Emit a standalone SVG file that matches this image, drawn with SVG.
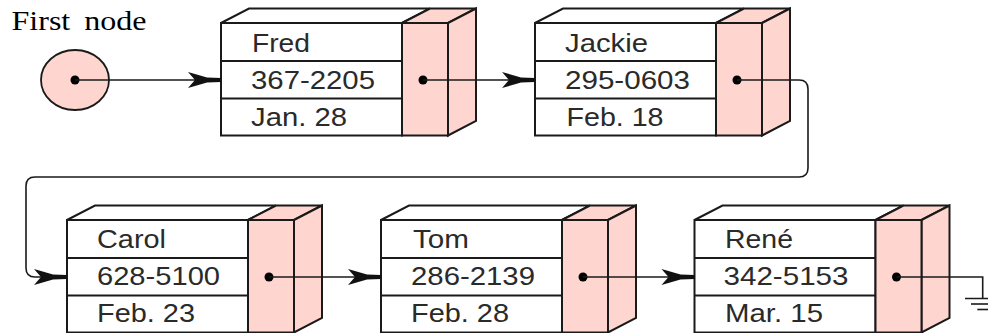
<svg xmlns="http://www.w3.org/2000/svg" xmlns:xlink="http://www.w3.org/1999/xlink" width="988" height="333" viewBox="0 0 988 333">
<style>
  .face { stroke: #1a1a1a; stroke-width: 2; stroke-linejoin: miter; }
  .white { fill: #ffffff; }
  .pink { fill: #ffd5cf; }
  .div { stroke: #1a1a1a; stroke-width: 2; }
  .dot { fill: #000000; }
  .lbl { font-family: "Liberation Sans", Arial, sans-serif; font-size: 25.5px; fill: #2a2a2a; }
  .title { font-family: "Liberation Serif", "Times New Roman", serif; font-size: 27px; fill: #000000; word-spacing: 5px; }
  .conn { fill: none; stroke: #1a1a1a; stroke-width: 1.6; }
  .ground { stroke: #1a1a1a; stroke-width: 1.6; }
</style>
<defs>
  <marker id="arr" markerUnits="userSpaceOnUse" viewBox="-34 -9 35 18" refX="0" refY="0" markerWidth="35" markerHeight="18" orient="auto">
    <path d="M-33,-8 L-14,-2.6 L0,-1.9 L0,1.9 L-14,2.6 L-33,8 L-26,0 Z" fill="#111111"/>
  </marker>
</defs>

<g id="first-node">
  <text class="title" x="11.5" y="29.5" textLength="135" lengthAdjust="spacingAndGlyphs">First node</text>
  <ellipse cx="75" cy="80" rx="34" ry="30" class="pink" stroke="#1a1a1a" stroke-width="1.8"/>
  <circle cx="75" cy="80" r="4.5" class="dot"/>
</g>

<g id="node-fred" transform="translate(221,23)">
  <polygon class="face white" points="0,0 28,-14.5 209,-14.5 181,0"/>
  <polygon class="face pink" points="181,0 209,-14.5 255,-14.5 227,0"/>
  <polygon class="face pink" points="227,0 255,-14.5 255,98 227,112.5"/>
  <rect class="face white" x="0" y="0" width="181" height="112.5"/>
  <rect class="face pink" x="181" y="0" width="46" height="112.5"/>
  <line class="div" x1="0" y1="38" x2="181" y2="38"/>
  <line class="div" x1="0" y1="75.5" x2="181" y2="75.5"/>
  <text class="lbl" x="31" y="29" textLength="58" lengthAdjust="spacingAndGlyphs">Fred</text>
  <text class="lbl" x="30" y="66" textLength="124" lengthAdjust="spacingAndGlyphs">367-2205</text>
  <text class="lbl" x="30" y="103" textLength="96" lengthAdjust="spacingAndGlyphs">Jan. 28</text>
  <circle cx="202" cy="57" r="4.5" class="dot"/>
</g>

<g id="node-jackie" transform="translate(535,23)">
  <polygon class="face white" points="0,0 28,-14.5 209,-14.5 181,0"/>
  <polygon class="face pink" points="181,0 209,-14.5 255,-14.5 227,0"/>
  <polygon class="face pink" points="227,0 255,-14.5 255,98 227,112.5"/>
  <rect class="face white" x="0" y="0" width="181" height="112.5"/>
  <rect class="face pink" x="181" y="0" width="46" height="112.5"/>
  <line class="div" x1="0" y1="38" x2="181" y2="38"/>
  <line class="div" x1="0" y1="75.5" x2="181" y2="75.5"/>
  <text class="lbl" x="30" y="29" textLength="83" lengthAdjust="spacingAndGlyphs">Jackie</text>
  <text class="lbl" x="30" y="66" textLength="125" lengthAdjust="spacingAndGlyphs">295-0603</text>
  <text class="lbl" x="31.5" y="103" textLength="97" lengthAdjust="spacingAndGlyphs">Feb. 18</text>
  <circle cx="202" cy="57" r="4.5" class="dot"/>
</g>

<g id="node-carol" transform="translate(67,220)">
  <polygon class="face white" points="0,0 28,-14.5 209,-14.5 181,0"/>
  <polygon class="face pink" points="181,0 209,-14.5 255,-14.5 227,0"/>
  <polygon class="face pink" points="227,0 255,-14.5 255,98 227,112.5"/>
  <rect class="face white" x="0" y="0" width="181" height="112.5"/>
  <rect class="face pink" x="181" y="0" width="46" height="112.5"/>
  <line class="div" x1="0" y1="38" x2="181" y2="38"/>
  <line class="div" x1="0" y1="75.5" x2="181" y2="75.5"/>
  <text class="lbl" x="30" y="28" textLength="69" lengthAdjust="spacingAndGlyphs">Carol</text>
  <text class="lbl" x="30" y="65" textLength="123" lengthAdjust="spacingAndGlyphs">628-5100</text>
  <text class="lbl" x="30" y="102" textLength="98" lengthAdjust="spacingAndGlyphs">Feb. 23</text>
  <circle cx="202" cy="57" r="4.5" class="dot"/>
</g>

<g id="node-tom" transform="translate(381,220)">
  <polygon class="face white" points="0,0 28,-14.5 209,-14.5 181,0"/>
  <polygon class="face pink" points="181,0 209,-14.5 255,-14.5 227,0"/>
  <polygon class="face pink" points="227,0 255,-14.5 255,98 227,112.5"/>
  <rect class="face white" x="0" y="0" width="181" height="112.5"/>
  <rect class="face pink" x="181" y="0" width="46" height="112.5"/>
  <line class="div" x1="0" y1="38" x2="181" y2="38"/>
  <line class="div" x1="0" y1="75.5" x2="181" y2="75.5"/>
  <text class="lbl" x="32" y="28" textLength="56" lengthAdjust="spacingAndGlyphs">Tom</text>
  <text class="lbl" x="30" y="65" textLength="124" lengthAdjust="spacingAndGlyphs">286-2139</text>
  <text class="lbl" x="30" y="102" textLength="98" lengthAdjust="spacingAndGlyphs">Feb. 28</text>
  <circle cx="202" cy="57" r="4.5" class="dot"/>
</g>

<g id="node-rene" transform="translate(694.5,220)">
  <polygon class="face white" points="0,0 28,-14.5 209,-14.5 181,0"/>
  <polygon class="face pink" points="181,0 209,-14.5 255,-14.5 227,0"/>
  <polygon class="face pink" points="227,0 255,-14.5 255,98 227,112.5"/>
  <rect class="face white" x="0" y="0" width="181" height="112.5"/>
  <rect class="face pink" x="181" y="0" width="46" height="112.5"/>
  <line class="div" x1="0" y1="38" x2="181" y2="38"/>
  <line class="div" x1="0" y1="75.5" x2="181" y2="75.5"/>
  <text class="lbl" x="30.5" y="28" textLength="68" lengthAdjust="spacingAndGlyphs">René</text>
  <text class="lbl" x="29" y="65" textLength="125" lengthAdjust="spacingAndGlyphs">342-5153</text>
  <text class="lbl" x="30.5" y="102" textLength="98" lengthAdjust="spacingAndGlyphs">Mar. 15</text>
  <circle cx="202" cy="57" r="4.5" class="dot"/>
</g>

<g id="connectors">
  <path class="conn" d="M75,80 H221" marker-end="url(#arr)"/>
  <path class="conn" d="M423,80 H535" marker-end="url(#arr)"/>
  <path class="conn" d="M737,80 H799 Q808,80 808,89 V168 Q808,177 799,177 H35 Q26,177 26,186 V268 Q26,277 35,277 H67" marker-end="url(#arr)"/>
  <path class="conn" d="M269,277 H381" marker-end="url(#arr)"/>
  <path class="conn" d="M583,277 H694.5" marker-end="url(#arr)"/>
  <path class="conn" d="M896.5,277 H982.7 V298.5"/>
  <line class="ground" x1="965" y1="298.5" x2="1000.4" y2="298.5"/>
  <line class="ground" x1="971" y1="304" x2="994.4" y2="304"/>
  <line class="ground" x1="977.3" y1="309.5" x2="988.1" y2="309.5"/>
</g>
</svg>
